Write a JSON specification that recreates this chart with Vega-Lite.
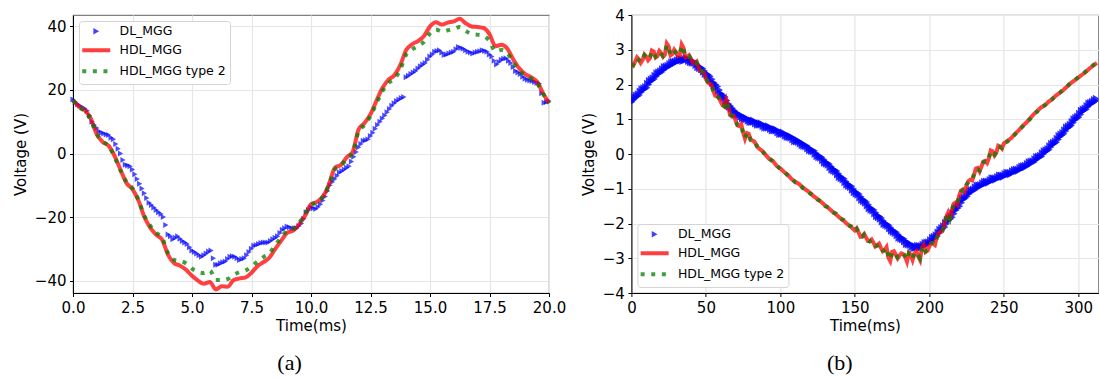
{
  "$schema": "https://vega.github.io/schema/vega-lite/v6.json",
  "padding": {"left": 12, "top": 7, "right": 0, "bottom": 0},
  "background": "white",
  "config": {
    "view": {"stroke": "#808080", "strokeWidth": 1.2},
    "axis": {
      "labelFont": "DejaVu Sans", "labelFontSize": 15, "labelColor": "black",
      "titleFont": "DejaVu Sans", "titleFontSize": 15, "titleFontWeight": "normal", "titleColor": "black",
      "tickColor": "black", "tickSize": 3.5, "tickWidth": 1,
      "domainColor": "black", "domainWidth": 1,
      "gridColor": "#e6e6e6", "gridWidth": 1.2,
      "labelPadding": 3.5, "labelFlush": false, "labelOverlap": false
    },
    "axisX": {"titlePadding": 3},
    "axisY": {"titlePadding": 6},
    "legend": {
      "title": null, "labelFont": "DejaVu Sans", "labelFontSize": 12.5, "labelColor": "black",
      "fillColor": "white", "strokeColor": "#d4d4d4", "cornerRadius": 3,
      "padding": 4, "rowPadding": 4, "symbolSize": 196, "symbolOffset": 7, "labelOffset": 17, "offset": 6
    }
  },
  "datasets": {
    "a": [
      {"t":0,"v":16.8,"s":"HDL_MGG"},{"t":0.25,"v":14.8,"s":"HDL_MGG"},{"t":0.5,"v":13.6,"s":"HDL_MGG"},{"t":0.75,"v":11.0,"s":"HDL_MGG"},{"t":1.0,"v":6.0,"s":"HDL_MGG"},{"t":1.25,"v":3.6,"s":"HDL_MGG"},{"t":1.5,"v":2.4,"s":"HDL_MGG"},{"t":1.75,"v":-0.8,"s":"HDL_MGG"},{"t":2.0,"v":-5.2,"s":"HDL_MGG"},{"t":2.25,"v":-9.3,"s":"HDL_MGG"},{"t":2.5,"v":-11.2,"s":"HDL_MGG"},{"t":2.75,"v":-14.8,"s":"HDL_MGG"},{"t":3.0,"v":-20.0,"s":"HDL_MGG"},{"t":3.25,"v":-23.4,"s":"HDL_MGG"},{"t":3.5,"v":-25.6,"s":"HDL_MGG"},{"t":3.75,"v":-27.2,"s":"HDL_MGG"},{"t":4.0,"v":-32.0,"s":"HDL_MGG"},{"t":4.25,"v":-34.5,"s":"HDL_MGG"},{"t":4.5,"v":-35.3,"s":"HDL_MGG"},{"t":4.75,"v":-36.6,"s":"HDL_MGG"},{"t":5.0,"v":-38.5,"s":"HDL_MGG"},{"t":5.25,"v":-40.0,"s":"HDL_MGG"},{"t":5.5,"v":-41.0,"s":"HDL_MGG"},{"t":5.75,"v":-40.4,"s":"HDL_MGG"},{"t":6.0,"v":-42.8,"s":"HDL_MGG"},{"t":6.25,"v":-41.8,"s":"HDL_MGG"},{"t":6.5,"v":-41.9,"s":"HDL_MGG"},{"t":6.75,"v":-39.8,"s":"HDL_MGG"},{"t":7.0,"v":-39.3,"s":"HDL_MGG"},{"t":7.25,"v":-39.0,"s":"HDL_MGG"},{"t":7.5,"v":-37.5,"s":"HDL_MGG"},{"t":7.75,"v":-35.5,"s":"HDL_MGG"},{"t":8.0,"v":-34.2,"s":"HDL_MGG"},{"t":8.25,"v":-32.8,"s":"HDL_MGG"},{"t":8.5,"v":-30.0,"s":"HDL_MGG"},{"t":8.75,"v":-27.4,"s":"HDL_MGG"},{"t":9.0,"v":-25.0,"s":"HDL_MGG"},{"t":9.25,"v":-24.3,"s":"HDL_MGG"},{"t":9.5,"v":-22.3,"s":"HDL_MGG"},{"t":9.75,"v":-19.6,"s":"HDL_MGG"},{"t":10.0,"v":-16.0,"s":"HDL_MGG"},{"t":10.25,"v":-15.2,"s":"HDL_MGG"},{"t":10.5,"v":-13.5,"s":"HDL_MGG"},{"t":10.75,"v":-9.8,"s":"HDL_MGG"},{"t":11.0,"v":-4.5,"s":"HDL_MGG"},{"t":11.25,"v":-3.6,"s":"HDL_MGG"},{"t":11.5,"v":-1.2,"s":"HDL_MGG"},{"t":11.75,"v":0.5,"s":"HDL_MGG"},{"t":12.0,"v":7.6,"s":"HDL_MGG"},{"t":12.25,"v":9.6,"s":"HDL_MGG"},{"t":12.5,"v":12.4,"s":"HDL_MGG"},{"t":12.75,"v":16.6,"s":"HDL_MGG"},{"t":13.0,"v":20.6,"s":"HDL_MGG"},{"t":13.25,"v":23.2,"s":"HDL_MGG"},{"t":13.5,"v":24.6,"s":"HDL_MGG"},{"t":13.75,"v":27.8,"s":"HDL_MGG"},{"t":14.0,"v":32.6,"s":"HDL_MGG"},{"t":14.25,"v":34.4,"s":"HDL_MGG"},{"t":14.5,"v":35.4,"s":"HDL_MGG"},{"t":14.75,"v":37.0,"s":"HDL_MGG"},{"t":15.0,"v":40.0,"s":"HDL_MGG"},{"t":15.25,"v":41.3,"s":"HDL_MGG"},{"t":15.5,"v":40.6,"s":"HDL_MGG"},{"t":15.75,"v":41.2,"s":"HDL_MGG"},{"t":16.0,"v":41.6,"s":"HDL_MGG"},{"t":16.25,"v":42.4,"s":"HDL_MGG"},{"t":16.5,"v":41.0,"s":"HDL_MGG"},{"t":16.75,"v":40.0,"s":"HDL_MGG"},{"t":17.0,"v":39.8,"s":"HDL_MGG"},{"t":17.25,"v":39.5,"s":"HDL_MGG"},{"t":17.5,"v":37.6,"s":"HDL_MGG"},{"t":17.75,"v":33.8,"s":"HDL_MGG"},{"t":18.0,"v":34.2,"s":"HDL_MGG"},{"t":18.25,"v":33.0,"s":"HDL_MGG"},{"t":18.5,"v":29.6,"s":"HDL_MGG"},{"t":18.75,"v":26.8,"s":"HDL_MGG"},{"t":19.0,"v":25.0,"s":"HDL_MGG"},{"t":19.25,"v":24.0,"s":"HDL_MGG"},{"t":19.5,"v":22.6,"s":"HDL_MGG"},{"t":19.75,"v":19.0,"s":"HDL_MGG"},{"t":20.0,"v":15.8,"s":"HDL_MGG"},
      {"t":0,"v":16.8,"s":"HDL_MGG type 2"},{"t":0.25,"v":14.6,"s":"HDL_MGG type 2"},{"t":0.5,"v":13.3,"s":"HDL_MGG type 2"},{"t":0.75,"v":10.6,"s":"HDL_MGG type 2"},{"t":1.0,"v":6.2,"s":"HDL_MGG type 2"},{"t":1.25,"v":3.8,"s":"HDL_MGG type 2"},{"t":1.5,"v":2.4,"s":"HDL_MGG type 2"},{"t":1.75,"v":-1.2,"s":"HDL_MGG type 2"},{"t":2.0,"v":-5.4,"s":"HDL_MGG type 2"},{"t":2.25,"v":-9.0,"s":"HDL_MGG type 2"},{"t":2.5,"v":-11.0,"s":"HDL_MGG type 2"},{"t":2.75,"v":-14.6,"s":"HDL_MGG type 2"},{"t":3.0,"v":-19.6,"s":"HDL_MGG type 2"},{"t":3.25,"v":-22.8,"s":"HDL_MGG type 2"},{"t":3.5,"v":-25.0,"s":"HDL_MGG type 2"},{"t":3.75,"v":-26.6,"s":"HDL_MGG type 2"},{"t":4.0,"v":-31.5,"s":"HDL_MGG type 2"},{"t":4.25,"v":-33.5,"s":"HDL_MGG type 2"},{"t":4.5,"v":-33.8,"s":"HDL_MGG type 2"},{"t":4.75,"v":-34.6,"s":"HDL_MGG type 2"},{"t":5.0,"v":-36.2,"s":"HDL_MGG type 2"},{"t":5.25,"v":-37.3,"s":"HDL_MGG type 2"},{"t":5.5,"v":-37.6,"s":"HDL_MGG type 2"},{"t":5.75,"v":-36.8,"s":"HDL_MGG type 2"},{"t":6.0,"v":-39.8,"s":"HDL_MGG type 2"},{"t":6.25,"v":-39.8,"s":"HDL_MGG type 2"},{"t":6.5,"v":-39.5,"s":"HDL_MGG type 2"},{"t":6.75,"v":-38.2,"s":"HDL_MGG type 2"},{"t":7.0,"v":-37.3,"s":"HDL_MGG type 2"},{"t":7.25,"v":-36.8,"s":"HDL_MGG type 2"},{"t":7.5,"v":-35.6,"s":"HDL_MGG type 2"},{"t":7.75,"v":-34.0,"s":"HDL_MGG type 2"},{"t":8.0,"v":-32.6,"s":"HDL_MGG type 2"},{"t":8.25,"v":-31.4,"s":"HDL_MGG type 2"},{"t":8.5,"v":-28.8,"s":"HDL_MGG type 2"},{"t":8.75,"v":-26.4,"s":"HDL_MGG type 2"},{"t":9.0,"v":-24.2,"s":"HDL_MGG type 2"},{"t":9.25,"v":-23.6,"s":"HDL_MGG type 2"},{"t":9.5,"v":-21.8,"s":"HDL_MGG type 2"},{"t":9.75,"v":-19.2,"s":"HDL_MGG type 2"},{"t":10.0,"v":-16.2,"s":"HDL_MGG type 2"},{"t":10.25,"v":-15.4,"s":"HDL_MGG type 2"},{"t":10.5,"v":-13.6,"s":"HDL_MGG type 2"},{"t":10.75,"v":-10.0,"s":"HDL_MGG type 2"},{"t":11.0,"v":-5.0,"s":"HDL_MGG type 2"},{"t":11.25,"v":-4.0,"s":"HDL_MGG type 2"},{"t":11.5,"v":-1.6,"s":"HDL_MGG type 2"},{"t":11.75,"v":0.2,"s":"HDL_MGG type 2"},{"t":12.0,"v":7.0,"s":"HDL_MGG type 2"},{"t":12.25,"v":9.0,"s":"HDL_MGG type 2"},{"t":12.5,"v":11.8,"s":"HDL_MGG type 2"},{"t":12.75,"v":15.8,"s":"HDL_MGG type 2"},{"t":13.0,"v":19.6,"s":"HDL_MGG type 2"},{"t":13.25,"v":22.2,"s":"HDL_MGG type 2"},{"t":13.5,"v":23.4,"s":"HDL_MGG type 2"},{"t":13.75,"v":26.4,"s":"HDL_MGG type 2"},{"t":14.0,"v":31.2,"s":"HDL_MGG type 2"},{"t":14.25,"v":32.8,"s":"HDL_MGG type 2"},{"t":14.5,"v":33.8,"s":"HDL_MGG type 2"},{"t":14.75,"v":35.2,"s":"HDL_MGG type 2"},{"t":15.0,"v":37.8,"s":"HDL_MGG type 2"},{"t":15.25,"v":39.0,"s":"HDL_MGG type 2"},{"t":15.5,"v":38.4,"s":"HDL_MGG type 2"},{"t":15.75,"v":38.8,"s":"HDL_MGG type 2"},{"t":16.0,"v":39.2,"s":"HDL_MGG type 2"},{"t":16.25,"v":39.8,"s":"HDL_MGG type 2"},{"t":16.5,"v":38.6,"s":"HDL_MGG type 2"},{"t":16.75,"v":37.6,"s":"HDL_MGG type 2"},{"t":17.0,"v":37.4,"s":"HDL_MGG type 2"},{"t":17.25,"v":37.0,"s":"HDL_MGG type 2"},{"t":17.5,"v":35.4,"s":"HDL_MGG type 2"},{"t":17.75,"v":32.2,"s":"HDL_MGG type 2"},{"t":18.0,"v":32.6,"s":"HDL_MGG type 2"},{"t":18.25,"v":31.6,"s":"HDL_MGG type 2"},{"t":18.5,"v":28.6,"s":"HDL_MGG type 2"},{"t":18.75,"v":26.0,"s":"HDL_MGG type 2"},{"t":19.0,"v":24.6,"s":"HDL_MGG type 2"},{"t":19.25,"v":23.6,"s":"HDL_MGG type 2"},{"t":19.5,"v":22.2,"s":"HDL_MGG type 2"},{"t":19.75,"v":18.8,"s":"HDL_MGG type 2"},{"t":20.0,"v":15.8,"s":"HDL_MGG type 2"},
      {"t":0,"v":17,"s":"DL_MGG"},{"t":0.1,"v":16.2,"s":"DL_MGG"},{"t":0.2,"v":15.5,"s":"DL_MGG"},{"t":0.3,"v":15.0,"s":"DL_MGG"},{"t":0.4,"v":14.5,"s":"DL_MGG"},{"t":0.5,"v":14.2,"s":"DL_MGG"},{"t":0.6,"v":13.5,"s":"DL_MGG"},{"t":0.7,"v":12.0,"s":"DL_MGG"},{"t":0.8,"v":10,"s":"DL_MGG"},{"t":0.9,"v":9.0,"s":"DL_MGG"},{"t":1.0,"v":8,"s":"DL_MGG"},{"t":1.1,"v":7.0,"s":"DL_MGG"},{"t":1.2,"v":6.5,"s":"DL_MGG"},{"t":1.3,"v":6.3,"s":"DL_MGG"},{"t":1.4,"v":6,"s":"DL_MGG"},{"t":1.5,"v":5.8,"s":"DL_MGG"},{"t":1.6,"v":5,"s":"DL_MGG"},{"t":1.7,"v":4.5,"s":"DL_MGG"},{"t":1.8,"v":3,"s":"DL_MGG"},{"t":1.9,"v":1.5,"s":"DL_MGG"},{"t":2.0,"v":0,"s":"DL_MGG"},{"t":2.1,"v":-2.0,"s":"DL_MGG"},{"t":2.2,"v":-3.5,"s":"DL_MGG"},{"t":2.3,"v":-3.8,"s":"DL_MGG"},{"t":2.4,"v":-4,"s":"DL_MGG"},{"t":2.5,"v":-5.0,"s":"DL_MGG"},{"t":2.6,"v":-6.5,"s":"DL_MGG"},{"t":2.7,"v":-8.0,"s":"DL_MGG"},{"t":2.8,"v":-9.5,"s":"DL_MGG"},{"t":2.9,"v":-11.0,"s":"DL_MGG"},{"t":3.0,"v":-12.5,"s":"DL_MGG"},{"t":3.1,"v":-14.0,"s":"DL_MGG"},{"t":3.2,"v":-15.5,"s":"DL_MGG"},{"t":3.3,"v":-16.2,"s":"DL_MGG"},{"t":3.4,"v":-17,"s":"DL_MGG"},{"t":3.5,"v":-17.8,"s":"DL_MGG"},{"t":3.6,"v":-18.5,"s":"DL_MGG"},{"t":3.7,"v":-19.0,"s":"DL_MGG"},{"t":3.8,"v":-20,"s":"DL_MGG"},{"t":3.9,"v":-22.5,"s":"DL_MGG"},{"t":4.0,"v":-25.5,"s":"DL_MGG"},{"t":4.1,"v":-26.0,"s":"DL_MGG"},{"t":4.2,"v":-27,"s":"DL_MGG"},{"t":4.3,"v":-26.5,"s":"DL_MGG"},{"t":4.4,"v":-26,"s":"DL_MGG"},{"t":4.5,"v":-26.8,"s":"DL_MGG"},{"t":4.6,"v":-27.5,"s":"DL_MGG"},{"t":4.7,"v":-28.0,"s":"DL_MGG"},{"t":4.8,"v":-28.5,"s":"DL_MGG"},{"t":4.9,"v":-29.5,"s":"DL_MGG"},{"t":5.0,"v":-30.5,"s":"DL_MGG"},{"t":5.1,"v":-31.0,"s":"DL_MGG"},{"t":5.2,"v":-31.5,"s":"DL_MGG"},{"t":5.3,"v":-32.0,"s":"DL_MGG"},{"t":5.4,"v":-32.5,"s":"DL_MGG"},{"t":5.5,"v":-32.0,"s":"DL_MGG"},{"t":5.6,"v":-31.5,"s":"DL_MGG"},{"t":5.7,"v":-30.8,"s":"DL_MGG"},{"t":5.8,"v":-30.5,"s":"DL_MGG"},{"t":5.9,"v":-33.0,"s":"DL_MGG"},{"t":6.0,"v":-35,"s":"DL_MGG"},{"t":6.1,"v":-35.0,"s":"DL_MGG"},{"t":6.2,"v":-34.5,"s":"DL_MGG"},{"t":6.3,"v":-34.2,"s":"DL_MGG"},{"t":6.4,"v":-34,"s":"DL_MGG"},{"t":6.5,"v":-33.2,"s":"DL_MGG"},{"t":6.6,"v":-32.5,"s":"DL_MGG"},{"t":6.7,"v":-32.3,"s":"DL_MGG"},{"t":6.8,"v":-32.5,"s":"DL_MGG"},{"t":6.9,"v":-33.0,"s":"DL_MGG"},{"t":7.0,"v":-33.5,"s":"DL_MGG"},{"t":7.1,"v":-33.2,"s":"DL_MGG"},{"t":7.2,"v":-33,"s":"DL_MGG"},{"t":7.3,"v":-32.0,"s":"DL_MGG"},{"t":7.4,"v":-31,"s":"DL_MGG"},{"t":7.5,"v":-30.0,"s":"DL_MGG"},{"t":7.6,"v":-29,"s":"DL_MGG"},{"t":7.7,"v":-28.8,"s":"DL_MGG"},{"t":7.8,"v":-28.5,"s":"DL_MGG"},{"t":7.9,"v":-28.2,"s":"DL_MGG"},{"t":8.0,"v":-28,"s":"DL_MGG"},{"t":8.1,"v":-28.0,"s":"DL_MGG"},{"t":8.2,"v":-28,"s":"DL_MGG"},{"t":8.3,"v":-27.5,"s":"DL_MGG"},{"t":8.4,"v":-27,"s":"DL_MGG"},{"t":8.5,"v":-26.5,"s":"DL_MGG"},{"t":8.6,"v":-26,"s":"DL_MGG"},{"t":8.7,"v":-25.0,"s":"DL_MGG"},{"t":8.8,"v":-24,"s":"DL_MGG"},{"t":8.9,"v":-23.5,"s":"DL_MGG"},{"t":9.0,"v":-23,"s":"DL_MGG"},{"t":9.1,"v":-23.2,"s":"DL_MGG"},{"t":9.2,"v":-23.5,"s":"DL_MGG"},{"t":9.3,"v":-23.5,"s":"DL_MGG"},{"t":9.4,"v":-23.5,"s":"DL_MGG"},{"t":9.5,"v":-22.8,"s":"DL_MGG"},{"t":9.6,"v":-22,"s":"DL_MGG"},{"t":9.7,"v":-20.5,"s":"DL_MGG"},{"t":9.8,"v":-18.5,"s":"DL_MGG"},{"t":9.9,"v":-17.8,"s":"DL_MGG"},{"t":10.0,"v":-17,"s":"DL_MGG"},{"t":10.1,"v":-17.2,"s":"DL_MGG"},{"t":10.2,"v":-17.5,"s":"DL_MGG"},{"t":10.3,"v":-16.8,"s":"DL_MGG"},{"t":10.4,"v":-16,"s":"DL_MGG"},{"t":10.5,"v":-14.8,"s":"DL_MGG"},{"t":10.6,"v":-13.5,"s":"DL_MGG"},{"t":10.7,"v":-11.8,"s":"DL_MGG"},{"t":10.8,"v":-10,"s":"DL_MGG"},{"t":10.9,"v":-9.0,"s":"DL_MGG"},{"t":11.0,"v":-8,"s":"DL_MGG"},{"t":11.1,"v":-7.0,"s":"DL_MGG"},{"t":11.2,"v":-6,"s":"DL_MGG"},{"t":11.3,"v":-5.5,"s":"DL_MGG"},{"t":11.4,"v":-5,"s":"DL_MGG"},{"t":11.5,"v":-4.5,"s":"DL_MGG"},{"t":11.6,"v":-4,"s":"DL_MGG"},{"t":11.7,"v":-2.5,"s":"DL_MGG"},{"t":11.8,"v":-1,"s":"DL_MGG"},{"t":11.9,"v":0.5,"s":"DL_MGG"},{"t":12.0,"v":2,"s":"DL_MGG"},{"t":12.1,"v":3.0,"s":"DL_MGG"},{"t":12.2,"v":4,"s":"DL_MGG"},{"t":12.3,"v":4.2,"s":"DL_MGG"},{"t":12.4,"v":4.5,"s":"DL_MGG"},{"t":12.5,"v":5.5,"s":"DL_MGG"},{"t":12.6,"v":6.5,"s":"DL_MGG"},{"t":12.7,"v":7.8,"s":"DL_MGG"},{"t":12.8,"v":9,"s":"DL_MGG"},{"t":12.9,"v":10.0,"s":"DL_MGG"},{"t":13.0,"v":11,"s":"DL_MGG"},{"t":13.1,"v":12.0,"s":"DL_MGG"},{"t":13.2,"v":13,"s":"DL_MGG"},{"t":13.3,"v":14.0,"s":"DL_MGG"},{"t":13.4,"v":15,"s":"DL_MGG"},{"t":13.5,"v":15.8,"s":"DL_MGG"},{"t":13.6,"v":16.5,"s":"DL_MGG"},{"t":13.7,"v":17.0,"s":"DL_MGG"},{"t":13.8,"v":17.5,"s":"DL_MGG"},{"t":13.9,"v":17.8,"s":"DL_MGG"},{"t":14.0,"v":24,"s":"DL_MGG"},{"t":14.1,"v":24.5,"s":"DL_MGG"},{"t":14.2,"v":25,"s":"DL_MGG"},{"t":14.3,"v":25.5,"s":"DL_MGG"},{"t":14.4,"v":26,"s":"DL_MGG"},{"t":14.5,"v":26.8,"s":"DL_MGG"},{"t":14.6,"v":27.5,"s":"DL_MGG"},{"t":14.7,"v":28.0,"s":"DL_MGG"},{"t":14.8,"v":28.5,"s":"DL_MGG"},{"t":14.9,"v":29.5,"s":"DL_MGG"},{"t":15.0,"v":30.5,"s":"DL_MGG"},{"t":15.1,"v":31.2,"s":"DL_MGG"},{"t":15.2,"v":32,"s":"DL_MGG"},{"t":15.3,"v":32.3,"s":"DL_MGG"},{"t":15.4,"v":32.5,"s":"DL_MGG"},{"t":15.5,"v":31.8,"s":"DL_MGG"},{"t":15.6,"v":31,"s":"DL_MGG"},{"t":15.7,"v":31.2,"s":"DL_MGG"},{"t":15.8,"v":31.5,"s":"DL_MGG"},{"t":15.9,"v":31.8,"s":"DL_MGG"},{"t":16.0,"v":32,"s":"DL_MGG"},{"t":16.1,"v":32.8,"s":"DL_MGG"},{"t":16.2,"v":33.5,"s":"DL_MGG"},{"t":16.3,"v":33.2,"s":"DL_MGG"},{"t":16.4,"v":33,"s":"DL_MGG"},{"t":16.5,"v":32.5,"s":"DL_MGG"},{"t":16.6,"v":32,"s":"DL_MGG"},{"t":16.7,"v":31.8,"s":"DL_MGG"},{"t":16.8,"v":31.5,"s":"DL_MGG"},{"t":16.9,"v":31.8,"s":"DL_MGG"},{"t":17.0,"v":32,"s":"DL_MGG"},{"t":17.1,"v":32.2,"s":"DL_MGG"},{"t":17.2,"v":32.5,"s":"DL_MGG"},{"t":17.3,"v":32.3,"s":"DL_MGG"},{"t":17.4,"v":32,"s":"DL_MGG"},{"t":17.5,"v":31.2,"s":"DL_MGG"},{"t":17.6,"v":30.5,"s":"DL_MGG"},{"t":17.7,"v":29.2,"s":"DL_MGG"},{"t":17.8,"v":28,"s":"DL_MGG"},{"t":17.9,"v":28.8,"s":"DL_MGG"},{"t":18.0,"v":29.5,"s":"DL_MGG"},{"t":18.1,"v":29.8,"s":"DL_MGG"},{"t":18.2,"v":30,"s":"DL_MGG"},{"t":18.3,"v":29.2,"s":"DL_MGG"},{"t":18.4,"v":28.5,"s":"DL_MGG"},{"t":18.5,"v":27.2,"s":"DL_MGG"},{"t":18.6,"v":26,"s":"DL_MGG"},{"t":18.7,"v":25.5,"s":"DL_MGG"},{"t":18.8,"v":25,"s":"DL_MGG"},{"t":18.9,"v":24.2,"s":"DL_MGG"},{"t":19.0,"v":23.5,"s":"DL_MGG"},{"t":19.1,"v":23.2,"s":"DL_MGG"},{"t":19.2,"v":23,"s":"DL_MGG"},{"t":19.3,"v":22.8,"s":"DL_MGG"},{"t":19.4,"v":22.5,"s":"DL_MGG"},{"t":19.5,"v":22.2,"s":"DL_MGG"},{"t":19.6,"v":22,"s":"DL_MGG"},{"t":19.7,"v":19.0,"s":"DL_MGG"},{"t":19.8,"v":16,"s":"DL_MGG"},{"t":19.9,"v":16.2,"s":"DL_MGG"},{"t":20.0,"v":16.5,"s":"DL_MGG"}
    ],
    "b": [
      {"t":0,"v":1.50,"s":"DL_MGG"},{"t":1.25,"v":1.56,"s":"DL_MGG"},{"t":2.5,"v":1.62,"s":"DL_MGG"},{"t":3.75,"v":1.66,"s":"DL_MGG"},{"t":5,"v":1.70,"s":"DL_MGG"},{"t":6.25,"v":1.78,"s":"DL_MGG"},{"t":7.5,"v":1.84,"s":"DL_MGG"},{"t":8.75,"v":1.87,"s":"DL_MGG"},{"t":10,"v":1.91,"s":"DL_MGG"},{"t":11.25,"v":2.00,"s":"DL_MGG"},{"t":12.5,"v":2.08,"s":"DL_MGG"},{"t":13.75,"v":2.12,"s":"DL_MGG"},{"t":15,"v":2.16,"s":"DL_MGG"},{"t":16.25,"v":2.23,"s":"DL_MGG"},{"t":17.5,"v":2.30,"s":"DL_MGG"},{"t":18.75,"v":2.33,"s":"DL_MGG"},{"t":20,"v":2.36,"s":"DL_MGG"},{"t":21.25,"v":2.42,"s":"DL_MGG"},{"t":22.5,"v":2.48,"s":"DL_MGG"},{"t":23.75,"v":2.50,"s":"DL_MGG"},{"t":25,"v":2.52,"s":"DL_MGG"},{"t":26.25,"v":2.57,"s":"DL_MGG"},{"t":27.5,"v":2.62,"s":"DL_MGG"},{"t":28.75,"v":2.63,"s":"DL_MGG"},{"t":30,"v":2.64,"s":"DL_MGG"},{"t":31.25,"v":2.68,"s":"DL_MGG"},{"t":32.5,"v":2.72,"s":"DL_MGG"},{"t":33.75,"v":2.71,"s":"DL_MGG"},{"t":35,"v":2.70,"s":"DL_MGG"},{"t":36.25,"v":2.72,"s":"DL_MGG"},{"t":37.5,"v":2.74,"s":"DL_MGG"},{"t":38.75,"v":2.70,"s":"DL_MGG"},{"t":40,"v":2.66,"s":"DL_MGG"},{"t":41.25,"v":2.65,"s":"DL_MGG"},{"t":42.5,"v":2.64,"s":"DL_MGG"},{"t":43.75,"v":2.58,"s":"DL_MGG"},{"t":45,"v":2.52,"s":"DL_MGG"},{"t":46.25,"v":2.49,"s":"DL_MGG"},{"t":47.5,"v":2.46,"s":"DL_MGG"},{"t":48.75,"v":2.39,"s":"DL_MGG"},{"t":50,"v":2.32,"s":"DL_MGG"},{"t":51.25,"v":2.28,"s":"DL_MGG"},{"t":52.5,"v":2.24,"s":"DL_MGG"},{"t":53.75,"v":2.15,"s":"DL_MGG"},{"t":55,"v":2.06,"s":"DL_MGG"},{"t":56.25,"v":2.00,"s":"DL_MGG"},{"t":57.5,"v":1.94,"s":"DL_MGG"},{"t":58.75,"v":1.84,"s":"DL_MGG"},{"t":60,"v":1.74,"s":"DL_MGG"},{"t":61.25,"v":1.69,"s":"DL_MGG"},{"t":62.5,"v":1.64,"s":"DL_MGG"},{"t":63.75,"v":1.54,"s":"DL_MGG"},{"t":65,"v":1.44,"s":"DL_MGG"},{"t":66.25,"v":1.38,"s":"DL_MGG"},{"t":67.5,"v":1.32,"s":"DL_MGG"},{"t":68.75,"v":1.25,"s":"DL_MGG"},{"t":70,"v":1.18,"s":"DL_MGG"},{"t":71.25,"v":1.16,"s":"DL_MGG"},{"t":72.5,"v":1.14,"s":"DL_MGG"},{"t":73.75,"v":1.09,"s":"DL_MGG"},{"t":75,"v":1.04,"s":"DL_MGG"},{"t":76.25,"v":1.03,"s":"DL_MGG"},{"t":77.5,"v":1.02,"s":"DL_MGG"},{"t":78.75,"v":0.98,"s":"DL_MGG"},{"t":80,"v":0.94,"s":"DL_MGG"},{"t":81.25,"v":0.94,"s":"DL_MGG"},{"t":82.5,"v":0.94,"s":"DL_MGG"},{"t":83.75,"v":0.90,"s":"DL_MGG"},{"t":85,"v":0.86,"s":"DL_MGG"},{"t":86.25,"v":0.86,"s":"DL_MGG"},{"t":87.5,"v":0.86,"s":"DL_MGG"},{"t":88.75,"v":0.82,"s":"DL_MGG"},{"t":90,"v":0.78,"s":"DL_MGG"},{"t":91.25,"v":0.78,"s":"DL_MGG"},{"t":92.5,"v":0.78,"s":"DL_MGG"},{"t":93.75,"v":0.74,"s":"DL_MGG"},{"t":95,"v":0.70,"s":"DL_MGG"},{"t":96.25,"v":0.70,"s":"DL_MGG"},{"t":97.5,"v":0.69,"s":"DL_MGG"},{"t":98.75,"v":0.64,"s":"DL_MGG"},{"t":100,"v":0.60,"s":"DL_MGG"},{"t":101.25,"v":0.60,"s":"DL_MGG"},{"t":102.5,"v":0.60,"s":"DL_MGG"},{"t":103.75,"v":0.55,"s":"DL_MGG"},{"t":105,"v":0.51,"s":"DL_MGG"},{"t":106.25,"v":0.50,"s":"DL_MGG"},{"t":107.5,"v":0.49,"s":"DL_MGG"},{"t":108.75,"v":0.44,"s":"DL_MGG"},{"t":110,"v":0.39,"s":"DL_MGG"},{"t":111.25,"v":0.38,"s":"DL_MGG"},{"t":112.5,"v":0.37,"s":"DL_MGG"},{"t":113.75,"v":0.32,"s":"DL_MGG"},{"t":115,"v":0.27,"s":"DL_MGG"},{"t":116.25,"v":0.25,"s":"DL_MGG"},{"t":117.5,"v":0.24,"s":"DL_MGG"},{"t":118.75,"v":0.18,"s":"DL_MGG"},{"t":120,"v":0.13,"s":"DL_MGG"},{"t":121.25,"v":0.11,"s":"DL_MGG"},{"t":122.5,"v":0.09,"s":"DL_MGG"},{"t":123.75,"v":0.02,"s":"DL_MGG"},{"t":125,"v":-0.04,"s":"DL_MGG"},{"t":126.25,"v":-0.07,"s":"DL_MGG"},{"t":127.5,"v":-0.09,"s":"DL_MGG"},{"t":128.75,"v":-0.16,"s":"DL_MGG"},{"t":130,"v":-0.23,"s":"DL_MGG"},{"t":131.25,"v":-0.26,"s":"DL_MGG"},{"t":132.5,"v":-0.29,"s":"DL_MGG"},{"t":133.75,"v":-0.36,"s":"DL_MGG"},{"t":135,"v":-0.43,"s":"DL_MGG"},{"t":136.25,"v":-0.46,"s":"DL_MGG"},{"t":137.5,"v":-0.49,"s":"DL_MGG"},{"t":138.75,"v":-0.57,"s":"DL_MGG"},{"t":140,"v":-0.64,"s":"DL_MGG"},{"t":141.25,"v":-0.68,"s":"DL_MGG"},{"t":142.5,"v":-0.71,"s":"DL_MGG"},{"t":143.75,"v":-0.79,"s":"DL_MGG"},{"t":145,"v":-0.86,"s":"DL_MGG"},{"t":146.25,"v":-0.90,"s":"DL_MGG"},{"t":147.5,"v":-0.93,"s":"DL_MGG"},{"t":148.75,"v":-1.01,"s":"DL_MGG"},{"t":150,"v":-1.08,"s":"DL_MGG"},{"t":151.25,"v":-1.12,"s":"DL_MGG"},{"t":152.5,"v":-1.15,"s":"DL_MGG"},{"t":153.75,"v":-1.23,"s":"DL_MGG"},{"t":155,"v":-1.30,"s":"DL_MGG"},{"t":156.25,"v":-1.34,"s":"DL_MGG"},{"t":157.5,"v":-1.38,"s":"DL_MGG"},{"t":158.75,"v":-1.46,"s":"DL_MGG"},{"t":160,"v":-1.54,"s":"DL_MGG"},{"t":161.25,"v":-1.58,"s":"DL_MGG"},{"t":162.5,"v":-1.61,"s":"DL_MGG"},{"t":163.75,"v":-1.69,"s":"DL_MGG"},{"t":165,"v":-1.77,"s":"DL_MGG"},{"t":166.25,"v":-1.80,"s":"DL_MGG"},{"t":167.5,"v":-1.84,"s":"DL_MGG"},{"t":168.75,"v":-1.92,"s":"DL_MGG"},{"t":170,"v":-1.99,"s":"DL_MGG"},{"t":171.25,"v":-2.02,"s":"DL_MGG"},{"t":172.5,"v":-2.05,"s":"DL_MGG"},{"t":173.75,"v":-2.12,"s":"DL_MGG"},{"t":175,"v":-2.19,"s":"DL_MGG"},{"t":176.25,"v":-2.22,"s":"DL_MGG"},{"t":177.5,"v":-2.25,"s":"DL_MGG"},{"t":178.75,"v":-2.32,"s":"DL_MGG"},{"t":180,"v":-2.39,"s":"DL_MGG"},{"t":181.25,"v":-2.42,"s":"DL_MGG"},{"t":182.5,"v":-2.44,"s":"DL_MGG"},{"t":183.75,"v":-2.50,"s":"DL_MGG"},{"t":185,"v":-2.57,"s":"DL_MGG"},{"t":186.25,"v":-2.58,"s":"DL_MGG"},{"t":187.5,"v":-2.60,"s":"DL_MGG"},{"t":188.75,"v":-2.65,"s":"DL_MGG"},{"t":190,"v":-2.69,"s":"DL_MGG"},{"t":191.25,"v":-2.68,"s":"DL_MGG"},{"t":192.5,"v":-2.66,"s":"DL_MGG"},{"t":193.75,"v":-2.67,"s":"DL_MGG"},{"t":195,"v":-2.67,"s":"DL_MGG"},{"t":196.25,"v":-2.63,"s":"DL_MGG"},{"t":197.5,"v":-2.58,"s":"DL_MGG"},{"t":198.75,"v":-2.57,"s":"DL_MGG"},{"t":200,"v":-2.56,"s":"DL_MGG"},{"t":201.25,"v":-2.50,"s":"DL_MGG"},{"t":202.5,"v":-2.43,"s":"DL_MGG"},{"t":203.75,"v":-2.40,"s":"DL_MGG"},{"t":205,"v":-2.36,"s":"DL_MGG"},{"t":206.25,"v":-2.28,"s":"DL_MGG"},{"t":207.5,"v":-2.20,"s":"DL_MGG"},{"t":208.75,"v":-2.15,"s":"DL_MGG"},{"t":210,"v":-2.10,"s":"DL_MGG"},{"t":211.25,"v":-2.01,"s":"DL_MGG"},{"t":212.5,"v":-1.92,"s":"DL_MGG"},{"t":213.75,"v":-1.87,"s":"DL_MGG"},{"t":215,"v":-1.82,"s":"DL_MGG"},{"t":216.25,"v":-1.72,"s":"DL_MGG"},{"t":217.5,"v":-1.62,"s":"DL_MGG"},{"t":218.75,"v":-1.56,"s":"DL_MGG"},{"t":220,"v":-1.50,"s":"DL_MGG"},{"t":221.25,"v":-1.40,"s":"DL_MGG"},{"t":222.5,"v":-1.31,"s":"DL_MGG"},{"t":223.75,"v":-1.27,"s":"DL_MGG"},{"t":225,"v":-1.22,"s":"DL_MGG"},{"t":226.25,"v":-1.15,"s":"DL_MGG"},{"t":227.5,"v":-1.08,"s":"DL_MGG"},{"t":228.75,"v":-1.06,"s":"DL_MGG"},{"t":230,"v":-1.04,"s":"DL_MGG"},{"t":231.25,"v":-0.98,"s":"DL_MGG"},{"t":232.5,"v":-0.93,"s":"DL_MGG"},{"t":233.75,"v":-0.92,"s":"DL_MGG"},{"t":235,"v":-0.91,"s":"DL_MGG"},{"t":236.25,"v":-0.86,"s":"DL_MGG"},{"t":237.5,"v":-0.82,"s":"DL_MGG"},{"t":238.75,"v":-0.81,"s":"DL_MGG"},{"t":240,"v":-0.81,"s":"DL_MGG"},{"t":241.25,"v":-0.77,"s":"DL_MGG"},{"t":242.5,"v":-0.72,"s":"DL_MGG"},{"t":243.75,"v":-0.72,"s":"DL_MGG"},{"t":245,"v":-0.72,"s":"DL_MGG"},{"t":246.25,"v":-0.68,"s":"DL_MGG"},{"t":247.5,"v":-0.64,"s":"DL_MGG"},{"t":248.75,"v":-0.64,"s":"DL_MGG"},{"t":250,"v":-0.64,"s":"DL_MGG"},{"t":251.25,"v":-0.60,"s":"DL_MGG"},{"t":252.5,"v":-0.56,"s":"DL_MGG"},{"t":253.75,"v":-0.56,"s":"DL_MGG"},{"t":255,"v":-0.56,"s":"DL_MGG"},{"t":256.25,"v":-0.52,"s":"DL_MGG"},{"t":257.5,"v":-0.48,"s":"DL_MGG"},{"t":258.75,"v":-0.47,"s":"DL_MGG"},{"t":260,"v":-0.47,"s":"DL_MGG"},{"t":261.25,"v":-0.42,"s":"DL_MGG"},{"t":262.5,"v":-0.38,"s":"DL_MGG"},{"t":263.75,"v":-0.37,"s":"DL_MGG"},{"t":265,"v":-0.36,"s":"DL_MGG"},{"t":266.25,"v":-0.31,"s":"DL_MGG"},{"t":267.5,"v":-0.26,"s":"DL_MGG"},{"t":268.75,"v":-0.24,"s":"DL_MGG"},{"t":270,"v":-0.23,"s":"DL_MGG"},{"t":271.25,"v":-0.17,"s":"DL_MGG"},{"t":272.5,"v":-0.11,"s":"DL_MGG"},{"t":273.75,"v":-0.09,"s":"DL_MGG"},{"t":275,"v":-0.07,"s":"DL_MGG"},{"t":276.25,"v":0.00,"s":"DL_MGG"},{"t":277.5,"v":0.06,"s":"DL_MGG"},{"t":278.75,"v":0.09,"s":"DL_MGG"},{"t":280,"v":0.12,"s":"DL_MGG"},{"t":281.25,"v":0.20,"s":"DL_MGG"},{"t":282.5,"v":0.27,"s":"DL_MGG"},{"t":283.75,"v":0.30,"s":"DL_MGG"},{"t":285,"v":0.34,"s":"DL_MGG"},{"t":286.25,"v":0.42,"s":"DL_MGG"},{"t":287.5,"v":0.50,"s":"DL_MGG"},{"t":288.75,"v":0.54,"s":"DL_MGG"},{"t":290,"v":0.58,"s":"DL_MGG"},{"t":291.25,"v":0.66,"s":"DL_MGG"},{"t":292.5,"v":0.74,"s":"DL_MGG"},{"t":293.75,"v":0.78,"s":"DL_MGG"},{"t":295,"v":0.82,"s":"DL_MGG"},{"t":296.25,"v":0.90,"s":"DL_MGG"},{"t":297.5,"v":0.98,"s":"DL_MGG"},{"t":298.75,"v":1.02,"s":"DL_MGG"},{"t":300,"v":1.06,"s":"DL_MGG"},{"t":301.25,"v":1.14,"s":"DL_MGG"},{"t":302.5,"v":1.22,"s":"DL_MGG"},{"t":303.75,"v":1.26,"s":"DL_MGG"},{"t":305,"v":1.29,"s":"DL_MGG"},{"t":306.25,"v":1.36,"s":"DL_MGG"},{"t":307.5,"v":1.43,"s":"DL_MGG"},{"t":308.75,"v":1.45,"s":"DL_MGG"},{"t":310,"v":1.48,"s":"DL_MGG"},{"t":311.25,"v":1.53,"s":"DL_MGG"},{"t":312.5,"v":1.57,"s":"DL_MGG"},
      {"t":0,"v":2.60,"s":"HDL_MGG"},{"t":2.5,"v":2.66,"s":"HDL_MGG"},{"t":5,"v":2.72,"s":"HDL_MGG"},{"t":7.5,"v":2.70,"s":"HDL_MGG"},{"t":10,"v":2.80,"s":"HDL_MGG"},{"t":12.5,"v":2.76,"s":"HDL_MGG"},{"t":15,"v":2.95,"s":"HDL_MGG"},{"t":17.5,"v":2.82,"s":"HDL_MGG"},{"t":20,"v":2.90,"s":"HDL_MGG"},{"t":22.5,"v":2.86,"s":"HDL_MGG"},{"t":25,"v":3.10,"s":"HDL_MGG"},{"t":27.5,"v":2.88,"s":"HDL_MGG"},{"t":30,"v":2.92,"s":"HDL_MGG"},{"t":32.5,"v":2.84,"s":"HDL_MGG"},{"t":35,"v":3.05,"s":"HDL_MGG"},{"t":37.5,"v":2.80,"s":"HDL_MGG"},{"t":40,"v":2.74,"s":"HDL_MGG"},{"t":42.5,"v":2.62,"s":"HDL_MGG"},{"t":45,"v":2.50,"s":"HDL_MGG"},{"t":47.5,"v":2.36,"s":"HDL_MGG"},{"t":50,"v":2.18,"s":"HDL_MGG"},{"t":52.5,"v":2.02,"s":"HDL_MGG"},{"t":55,"v":1.82,"s":"HDL_MGG"},{"t":57.5,"v":1.66,"s":"HDL_MGG"},{"t":60,"v":1.50,"s":"HDL_MGG"},{"t":62.5,"v":1.36,"s":"HDL_MGG"},{"t":65,"v":1.40,"s":"HDL_MGG"},{"t":67.5,"v":1.08,"s":"HDL_MGG"},{"t":70,"v":0.96,"s":"HDL_MGG"},{"t":72.5,"v":0.80,"s":"HDL_MGG"},{"t":75,"v":0.62,"s":"HDL_MGG"},{"t":77.5,"v":0.60,"s":"HDL_MGG"},{"t":80,"v":0.42,"s":"HDL_MGG"},{"t":82.5,"v":0.36,"s":"HDL_MGG"},{"t":85,"v":0.18,"s":"HDL_MGG"},{"t":87.5,"v":0.10,"s":"HDL_MGG"},{"t":90,"v":-0.02,"s":"HDL_MGG"},{"t":92.5,"v":-0.14,"s":"HDL_MGG"},{"t":95,"v":-0.20,"s":"HDL_MGG"},{"t":97.5,"v":-0.34,"s":"HDL_MGG"},{"t":100,"v":-0.42,"s":"HDL_MGG"},{"t":102.5,"v":-0.52,"s":"HDL_MGG"},{"t":105,"v":-0.60,"s":"HDL_MGG"},{"t":107.5,"v":-0.72,"s":"HDL_MGG"},{"t":110,"v":-0.80,"s":"HDL_MGG"},{"t":112.5,"v":-0.86,"s":"HDL_MGG"},{"t":115,"v":-0.96,"s":"HDL_MGG"},{"t":117.5,"v":-1.04,"s":"HDL_MGG"},{"t":120,"v":-1.12,"s":"HDL_MGG"},{"t":122.5,"v":-1.22,"s":"HDL_MGG"},{"t":125,"v":-1.30,"s":"HDL_MGG"},{"t":127.5,"v":-1.38,"s":"HDL_MGG"},{"t":130,"v":-1.48,"s":"HDL_MGG"},{"t":132.5,"v":-1.56,"s":"HDL_MGG"},{"t":135,"v":-1.66,"s":"HDL_MGG"},{"t":137.5,"v":-1.74,"s":"HDL_MGG"},{"t":140,"v":-1.84,"s":"HDL_MGG"},{"t":142.5,"v":-1.92,"s":"HDL_MGG"},{"t":145,"v":-2.02,"s":"HDL_MGG"},{"t":147.5,"v":-2.10,"s":"HDL_MGG"},{"t":150,"v":-2.20,"s":"HDL_MGG"},{"t":152.5,"v":-2.26,"s":"HDL_MGG"},{"t":155,"v":-2.36,"s":"HDL_MGG"},{"t":157.5,"v":-2.40,"s":"HDL_MGG"},{"t":160,"v":-2.50,"s":"HDL_MGG"},{"t":162.5,"v":-2.55,"s":"HDL_MGG"},{"t":165,"v":-2.62,"s":"HDL_MGG"},{"t":167.5,"v":-2.70,"s":"HDL_MGG"},{"t":170,"v":-2.76,"s":"HDL_MGG"},{"t":172.5,"v":-2.98,"s":"HDL_MGG"},{"t":175,"v":-2.82,"s":"HDL_MGG"},{"t":177.5,"v":-2.90,"s":"HDL_MGG"},{"t":180,"v":-2.92,"s":"HDL_MGG"},{"t":182.5,"v":-2.88,"s":"HDL_MGG"},{"t":185,"v":-3.10,"s":"HDL_MGG"},{"t":187.5,"v":-2.90,"s":"HDL_MGG"},{"t":190,"v":-2.86,"s":"HDL_MGG"},{"t":192.5,"v":-2.94,"s":"HDL_MGG"},{"t":195,"v":-2.70,"s":"HDL_MGG"},{"t":197.5,"v":-2.82,"s":"HDL_MGG"},{"t":200,"v":-2.66,"s":"HDL_MGG"},{"t":202.5,"v":-2.58,"s":"HDL_MGG"},{"t":205,"v":-2.40,"s":"HDL_MGG"},{"t":207.5,"v":-2.24,"s":"HDL_MGG"},{"t":210,"v":-2.02,"s":"HDL_MGG"},{"t":212.5,"v":-1.70,"s":"HDL_MGG"},{"t":215,"v":-1.66,"s":"HDL_MGG"},{"t":217.5,"v":-1.40,"s":"HDL_MGG"},{"t":220,"v":-1.20,"s":"HDL_MGG"},{"t":222.5,"v":-1.02,"s":"HDL_MGG"},{"t":225,"v":-0.90,"s":"HDL_MGG"},{"t":227.5,"v":-0.74,"s":"HDL_MGG"},{"t":230,"v":-0.60,"s":"HDL_MGG"},{"t":232.5,"v":-0.40,"s":"HDL_MGG"},{"t":235,"v":-0.36,"s":"HDL_MGG"},{"t":237.5,"v":-0.20,"s":"HDL_MGG"},{"t":240,"v":-0.12,"s":"HDL_MGG"},{"t":242.5,"v":0.08,"s":"HDL_MGG"},{"t":245,"v":0.04,"s":"HDL_MGG"},{"t":247.5,"v":0.22,"s":"HDL_MGG"},{"t":250,"v":0.30,"s":"HDL_MGG"},{"t":252.5,"v":0.38,"s":"HDL_MGG"},{"t":255,"v":0.46,"s":"HDL_MGG"},{"t":257.5,"v":0.58,"s":"HDL_MGG"},{"t":260,"v":0.68,"s":"HDL_MGG"},{"t":262.5,"v":0.80,"s":"HDL_MGG"},{"t":265,"v":0.90,"s":"HDL_MGG"},{"t":267.5,"v":1.02,"s":"HDL_MGG"},{"t":270,"v":1.14,"s":"HDL_MGG"},{"t":272.5,"v":1.24,"s":"HDL_MGG"},{"t":275,"v":1.34,"s":"HDL_MGG"},{"t":277.5,"v":1.40,"s":"HDL_MGG"},{"t":280,"v":1.50,"s":"HDL_MGG"},{"t":282.5,"v":1.58,"s":"HDL_MGG"},{"t":285,"v":1.68,"s":"HDL_MGG"},{"t":287.5,"v":1.76,"s":"HDL_MGG"},{"t":290,"v":1.84,"s":"HDL_MGG"},{"t":292.5,"v":1.94,"s":"HDL_MGG"},{"t":295,"v":2.04,"s":"HDL_MGG"},{"t":297.5,"v":2.12,"s":"HDL_MGG"},{"t":300,"v":2.20,"s":"HDL_MGG"},{"t":302.5,"v":2.28,"s":"HDL_MGG"},{"t":305,"v":2.36,"s":"HDL_MGG"},{"t":307.5,"v":2.46,"s":"HDL_MGG"},{"t":310,"v":2.54,"s":"HDL_MGG"},{"t":312.5,"v":2.62,"s":"HDL_MGG"},
      {"t":1.25,"v":2.55,"s":"HDL_MGG"},{"t":3.75,"v":2.78,"s":"HDL_MGG"},{"t":6.25,"v":2.62,"s":"HDL_MGG"},{"t":8.75,"v":2.86,"s":"HDL_MGG"},{"t":11.25,"v":2.70,"s":"HDL_MGG"},{"t":13.75,"v":2.98,"s":"HDL_MGG"},{"t":16.25,"v":2.78,"s":"HDL_MGG"},{"t":18.75,"v":2.96,"s":"HDL_MGG"},{"t":21.25,"v":2.80,"s":"HDL_MGG"},{"t":23.75,"v":3.18,"s":"HDL_MGG"},{"t":26.25,"v":2.84,"s":"HDL_MGG"},{"t":28.75,"v":3.00,"s":"HDL_MGG"},{"t":31.25,"v":2.82,"s":"HDL_MGG"},{"t":33.75,"v":3.15,"s":"HDL_MGG"},{"t":36.25,"v":2.78,"s":"HDL_MGG"},{"t":38.75,"v":2.84,"s":"HDL_MGG"},{"t":41.25,"v":2.62,"s":"HDL_MGG"},{"t":43.75,"v":2.66,"s":"HDL_MGG"},{"t":46.25,"v":2.38,"s":"HDL_MGG"},{"t":48.75,"v":2.34,"s":"HDL_MGG"},{"t":51.25,"v":2.06,"s":"HDL_MGG"},{"t":53.75,"v":2.00,"s":"HDL_MGG"},{"t":56.25,"v":1.68,"s":"HDL_MGG"},{"t":58.75,"v":1.62,"s":"HDL_MGG"},{"t":61.25,"v":1.40,"s":"HDL_MGG"},{"t":63.75,"v":1.56,"s":"HDL_MGG"},{"t":66.25,"v":1.12,"s":"HDL_MGG"},{"t":68.75,"v":1.10,"s":"HDL_MGG"},{"t":71.25,"v":0.82,"s":"HDL_MGG"},{"t":73.75,"v":0.86,"s":"HDL_MGG"},{"t":76.25,"v":0.44,"s":"HDL_MGG"},{"t":78.75,"v":0.58,"s":"HDL_MGG"},
      {"t":151.25,"v":-2.14,"s":"HDL_MGG"},{"t":153.75,"v":-2.38,"s":"HDL_MGG"},{"t":156.25,"v":-2.30,"s":"HDL_MGG"},{"t":158.75,"v":-2.50,"s":"HDL_MGG"},{"t":161.25,"v":-2.46,"s":"HDL_MGG"},{"t":163.75,"v":-2.66,"s":"HDL_MGG"},{"t":166.25,"v":-2.58,"s":"HDL_MGG"},{"t":168.75,"v":-2.80,"s":"HDL_MGG"},{"t":171.25,"v":-2.68,"s":"HDL_MGG"},{"t":173.75,"v":-3.08,"s":"HDL_MGG"},{"t":176.25,"v":-2.80,"s":"HDL_MGG"},{"t":178.75,"v":-3.00,"s":"HDL_MGG"},{"t":181.25,"v":-2.86,"s":"HDL_MGG"},{"t":183.75,"v":-2.96,"s":"HDL_MGG"},{"t":186.25,"v":-2.84,"s":"HDL_MGG"},{"t":188.75,"v":-3.05,"s":"HDL_MGG"},{"t":191.25,"v":-2.80,"s":"HDL_MGG"},{"t":193.75,"v":-3.05,"s":"HDL_MGG"},{"t":196.25,"v":-2.62,"s":"HDL_MGG"},{"t":198.75,"v":-2.78,"s":"HDL_MGG"},{"t":201.25,"v":-2.56,"s":"HDL_MGG"},{"t":203.75,"v":-2.62,"s":"HDL_MGG"},{"t":206.25,"v":-2.28,"s":"HDL_MGG"},{"t":208.75,"v":-2.22,"s":"HDL_MGG"},{"t":211.25,"v":-1.82,"s":"HDL_MGG"},{"t":213.75,"v":-1.90,"s":"HDL_MGG"},{"t":216.25,"v":-1.44,"s":"HDL_MGG"},{"t":218.75,"v":-1.46,"s":"HDL_MGG"},{"t":221.25,"v":-1.06,"s":"HDL_MGG"},{"t":223.75,"v":-1.08,"s":"HDL_MGG"},{"t":226.25,"v":-0.78,"s":"HDL_MGG"},{"t":228.75,"v":-0.76,"s":"HDL_MGG"},{"t":231.25,"v":-0.42,"s":"HDL_MGG"},{"t":233.75,"v":-0.50,"s":"HDL_MGG"},{"t":236.25,"v":-0.22,"s":"HDL_MGG"},{"t":238.75,"v":-0.26,"s":"HDL_MGG"},{"t":241.25,"v":0.10,"s":"HDL_MGG"},{"t":243.75,"v":-0.04,"s":"HDL_MGG"},{"t":246.25,"v":0.24,"s":"HDL_MGG"},{"t":248.75,"v":0.16,"s":"HDL_MGG"},
      {"t":0,"v":2.58,"s":"HDL_MGG type 2"},{"t":2.5,"v":2.68,"s":"HDL_MGG type 2"},{"t":5,"v":2.70,"s":"HDL_MGG type 2"},{"t":7.5,"v":2.74,"s":"HDL_MGG type 2"},{"t":10,"v":2.78,"s":"HDL_MGG type 2"},{"t":12.5,"v":2.80,"s":"HDL_MGG type 2"},{"t":15,"v":2.90,"s":"HDL_MGG type 2"},{"t":17.5,"v":2.84,"s":"HDL_MGG type 2"},{"t":20,"v":2.88,"s":"HDL_MGG type 2"},{"t":22.5,"v":2.90,"s":"HDL_MGG type 2"},{"t":25,"v":3.02,"s":"HDL_MGG type 2"},{"t":27.5,"v":2.90,"s":"HDL_MGG type 2"},{"t":30,"v":2.90,"s":"HDL_MGG type 2"},{"t":32.5,"v":2.88,"s":"HDL_MGG type 2"},{"t":35,"v":3.00,"s":"HDL_MGG type 2"},{"t":37.5,"v":2.82,"s":"HDL_MGG type 2"},{"t":40,"v":2.72,"s":"HDL_MGG type 2"},{"t":42.5,"v":2.64,"s":"HDL_MGG type 2"},{"t":45,"v":2.46,"s":"HDL_MGG type 2"},{"t":47.5,"v":2.38,"s":"HDL_MGG type 2"},{"t":50,"v":2.16,"s":"HDL_MGG type 2"},{"t":52.5,"v":2.04,"s":"HDL_MGG type 2"},{"t":55,"v":1.80,"s":"HDL_MGG type 2"},{"t":57.5,"v":1.68,"s":"HDL_MGG type 2"},{"t":60,"v":1.46,"s":"HDL_MGG type 2"},{"t":62.5,"v":1.38,"s":"HDL_MGG type 2"},{"t":65,"v":1.34,"s":"HDL_MGG type 2"},{"t":67.5,"v":1.10,"s":"HDL_MGG type 2"},{"t":70,"v":0.92,"s":"HDL_MGG type 2"},{"t":72.5,"v":0.82,"s":"HDL_MGG type 2"},{"t":75,"v":0.58,"s":"HDL_MGG type 2"},{"t":77.5,"v":0.62,"s":"HDL_MGG type 2"},{"t":80,"v":0.40,"s":"HDL_MGG type 2"},{"t":82.5,"v":0.38,"s":"HDL_MGG type 2"},{"t":85,"v":0.16,"s":"HDL_MGG type 2"},{"t":87.5,"v":0.12,"s":"HDL_MGG type 2"},{"t":90,"v":-0.04,"s":"HDL_MGG type 2"},{"t":92.5,"v":-0.12,"s":"HDL_MGG type 2"},{"t":95,"v":-0.22,"s":"HDL_MGG type 2"},{"t":97.5,"v":-0.32,"s":"HDL_MGG type 2"},{"t":100,"v":-0.44,"s":"HDL_MGG type 2"},{"t":102.5,"v":-0.50,"s":"HDL_MGG type 2"},{"t":105,"v":-0.62,"s":"HDL_MGG type 2"},{"t":107.5,"v":-0.70,"s":"HDL_MGG type 2"},{"t":110,"v":-0.82,"s":"HDL_MGG type 2"},{"t":112.5,"v":-0.84,"s":"HDL_MGG type 2"},{"t":115,"v":-0.98,"s":"HDL_MGG type 2"},{"t":117.5,"v":-1.02,"s":"HDL_MGG type 2"},{"t":120,"v":-1.14,"s":"HDL_MGG type 2"},{"t":122.5,"v":-1.20,"s":"HDL_MGG type 2"},{"t":125,"v":-1.32,"s":"HDL_MGG type 2"},{"t":127.5,"v":-1.36,"s":"HDL_MGG type 2"},{"t":130,"v":-1.50,"s":"HDL_MGG type 2"},{"t":132.5,"v":-1.54,"s":"HDL_MGG type 2"},{"t":135,"v":-1.68,"s":"HDL_MGG type 2"},{"t":137.5,"v":-1.72,"s":"HDL_MGG type 2"},{"t":140,"v":-1.86,"s":"HDL_MGG type 2"},{"t":142.5,"v":-1.90,"s":"HDL_MGG type 2"},{"t":145,"v":-2.04,"s":"HDL_MGG type 2"},{"t":147.5,"v":-2.08,"s":"HDL_MGG type 2"},{"t":150,"v":-2.22,"s":"HDL_MGG type 2"},{"t":152.5,"v":-2.24,"s":"HDL_MGG type 2"},{"t":155,"v":-2.38,"s":"HDL_MGG type 2"},{"t":157.5,"v":-2.38,"s":"HDL_MGG type 2"},{"t":160,"v":-2.52,"s":"HDL_MGG type 2"},{"t":162.5,"v":-2.53,"s":"HDL_MGG type 2"},{"t":165,"v":-2.64,"s":"HDL_MGG type 2"},{"t":167.5,"v":-2.68,"s":"HDL_MGG type 2"},{"t":170,"v":-2.78,"s":"HDL_MGG type 2"},{"t":172.5,"v":-2.92,"s":"HDL_MGG type 2"},{"t":175,"v":-2.84,"s":"HDL_MGG type 2"},{"t":177.5,"v":-2.88,"s":"HDL_MGG type 2"},{"t":180,"v":-2.94,"s":"HDL_MGG type 2"},{"t":182.5,"v":-2.86,"s":"HDL_MGG type 2"},{"t":185,"v":-3.04,"s":"HDL_MGG type 2"},{"t":187.5,"v":-2.92,"s":"HDL_MGG type 2"},{"t":190,"v":-2.84,"s":"HDL_MGG type 2"},{"t":192.5,"v":-2.90,"s":"HDL_MGG type 2"},{"t":195,"v":-2.72,"s":"HDL_MGG type 2"},{"t":197.5,"v":-2.80,"s":"HDL_MGG type 2"},{"t":200,"v":-2.68,"s":"HDL_MGG type 2"},{"t":202.5,"v":-2.56,"s":"HDL_MGG type 2"},{"t":205,"v":-2.42,"s":"HDL_MGG type 2"},{"t":207.5,"v":-2.22,"s":"HDL_MGG type 2"},{"t":210,"v":-2.04,"s":"HDL_MGG type 2"},{"t":212.5,"v":-1.74,"s":"HDL_MGG type 2"},{"t":215,"v":-1.62,"s":"HDL_MGG type 2"},{"t":217.5,"v":-1.42,"s":"HDL_MGG type 2"},{"t":220,"v":-1.18,"s":"HDL_MGG type 2"},{"t":222.5,"v":-1.04,"s":"HDL_MGG type 2"},{"t":225,"v":-0.88,"s":"HDL_MGG type 2"},{"t":227.5,"v":-0.76,"s":"HDL_MGG type 2"},{"t":230,"v":-0.58,"s":"HDL_MGG type 2"},{"t":232.5,"v":-0.44,"s":"HDL_MGG type 2"},{"t":235,"v":-0.34,"s":"HDL_MGG type 2"},{"t":237.5,"v":-0.22,"s":"HDL_MGG type 2"},{"t":240,"v":-0.10,"s":"HDL_MGG type 2"},{"t":242.5,"v":0.04,"s":"HDL_MGG type 2"},{"t":245,"v":0.06,"s":"HDL_MGG type 2"},{"t":247.5,"v":0.20,"s":"HDL_MGG type 2"},{"t":250,"v":0.32,"s":"HDL_MGG type 2"},{"t":252.5,"v":0.36,"s":"HDL_MGG type 2"},{"t":255,"v":0.48,"s":"HDL_MGG type 2"},{"t":257.5,"v":0.56,"s":"HDL_MGG type 2"},{"t":260,"v":0.70,"s":"HDL_MGG type 2"},{"t":262.5,"v":0.78,"s":"HDL_MGG type 2"},{"t":265,"v":0.92,"s":"HDL_MGG type 2"},{"t":267.5,"v":1.00,"s":"HDL_MGG type 2"},{"t":270,"v":1.16,"s":"HDL_MGG type 2"},{"t":272.5,"v":1.22,"s":"HDL_MGG type 2"},{"t":275,"v":1.36,"s":"HDL_MGG type 2"},{"t":277.5,"v":1.40,"s":"HDL_MGG type 2"},{"t":280,"v":1.52,"s":"HDL_MGG type 2"},{"t":282.5,"v":1.58,"s":"HDL_MGG type 2"},{"t":285,"v":1.70,"s":"HDL_MGG type 2"},{"t":287.5,"v":1.76,"s":"HDL_MGG type 2"},{"t":290,"v":1.86,"s":"HDL_MGG type 2"},{"t":292.5,"v":1.94,"s":"HDL_MGG type 2"},{"t":295,"v":2.06,"s":"HDL_MGG type 2"},{"t":297.5,"v":2.12,"s":"HDL_MGG type 2"},{"t":300,"v":2.22,"s":"HDL_MGG type 2"},{"t":302.5,"v":2.28,"s":"HDL_MGG type 2"},{"t":305,"v":2.38,"s":"HDL_MGG type 2"},{"t":307.5,"v":2.46,"s":"HDL_MGG type 2"},{"t":310,"v":2.56,"s":"HDL_MGG type 2"},{"t":312.5,"v":2.62,"s":"HDL_MGG type 2"},
      {"t":1.25,"v":2.56,"s":"HDL_MGG type 2"},{"t":3.75,"v":2.76,"s":"HDL_MGG type 2"},{"t":6.25,"v":2.64,"s":"HDL_MGG type 2"},{"t":8.75,"v":2.84,"s":"HDL_MGG type 2"},{"t":11.25,"v":2.72,"s":"HDL_MGG type 2"},{"t":13.75,"v":2.96,"s":"HDL_MGG type 2"},{"t":16.25,"v":2.80,"s":"HDL_MGG type 2"},{"t":18.75,"v":2.94,"s":"HDL_MGG type 2"},{"t":21.25,"v":2.82,"s":"HDL_MGG type 2"},{"t":23.75,"v":3.14,"s":"HDL_MGG type 2"},{"t":26.25,"v":2.86,"s":"HDL_MGG type 2"},{"t":28.75,"v":2.98,"s":"HDL_MGG type 2"},{"t":31.25,"v":2.84,"s":"HDL_MGG type 2"},{"t":33.75,"v":3.12,"s":"HDL_MGG type 2"},{"t":36.25,"v":2.80,"s":"HDL_MGG type 2"},{"t":38.75,"v":2.82,"s":"HDL_MGG type 2"},{"t":41.25,"v":2.64,"s":"HDL_MGG type 2"},{"t":43.75,"v":2.64,"s":"HDL_MGG type 2"},{"t":46.25,"v":2.40,"s":"HDL_MGG type 2"},{"t":48.75,"v":2.32,"s":"HDL_MGG type 2"},{"t":51.25,"v":2.08,"s":"HDL_MGG type 2"},{"t":53.75,"v":1.98,"s":"HDL_MGG type 2"},{"t":56.25,"v":1.70,"s":"HDL_MGG type 2"},{"t":58.75,"v":1.60,"s":"HDL_MGG type 2"},{"t":61.25,"v":1.42,"s":"HDL_MGG type 2"},{"t":63.75,"v":1.52,"s":"HDL_MGG type 2"},{"t":66.25,"v":1.14,"s":"HDL_MGG type 2"},{"t":68.75,"v":1.08,"s":"HDL_MGG type 2"},{"t":71.25,"v":0.84,"s":"HDL_MGG type 2"},{"t":73.75,"v":0.84,"s":"HDL_MGG type 2"},{"t":76.25,"v":0.46,"s":"HDL_MGG type 2"},{"t":78.75,"v":0.56,"s":"HDL_MGG type 2"},
      {"t":151.25,"v":-2.16,"s":"HDL_MGG type 2"},{"t":153.75,"v":-2.36,"s":"HDL_MGG type 2"},{"t":156.25,"v":-2.32,"s":"HDL_MGG type 2"},{"t":158.75,"v":-2.48,"s":"HDL_MGG type 2"},{"t":161.25,"v":-2.48,"s":"HDL_MGG type 2"},{"t":163.75,"v":-2.64,"s":"HDL_MGG type 2"},{"t":166.25,"v":-2.60,"s":"HDL_MGG type 2"},{"t":168.75,"v":-2.78,"s":"HDL_MGG type 2"},{"t":171.25,"v":-2.70,"s":"HDL_MGG type 2"},{"t":173.75,"v":-3.04,"s":"HDL_MGG type 2"},{"t":176.25,"v":-2.82,"s":"HDL_MGG type 2"},{"t":178.75,"v":-2.98,"s":"HDL_MGG type 2"},{"t":181.25,"v":-2.88,"s":"HDL_MGG type 2"},{"t":183.75,"v":-2.94,"s":"HDL_MGG type 2"},{"t":186.25,"v":-2.86,"s":"HDL_MGG type 2"},{"t":188.75,"v":-3.02,"s":"HDL_MGG type 2"},{"t":191.25,"v":-2.82,"s":"HDL_MGG type 2"},{"t":193.75,"v":-3.00,"s":"HDL_MGG type 2"},{"t":196.25,"v":-2.64,"s":"HDL_MGG type 2"},{"t":198.75,"v":-2.76,"s":"HDL_MGG type 2"},{"t":201.25,"v":-2.58,"s":"HDL_MGG type 2"},{"t":203.75,"v":-2.60,"s":"HDL_MGG type 2"},{"t":206.25,"v":-2.30,"s":"HDL_MGG type 2"},{"t":208.75,"v":-2.20,"s":"HDL_MGG type 2"},{"t":211.25,"v":-1.84,"s":"HDL_MGG type 2"},{"t":213.75,"v":-1.86,"s":"HDL_MGG type 2"},{"t":216.25,"v":-1.46,"s":"HDL_MGG type 2"},{"t":218.75,"v":-1.44,"s":"HDL_MGG type 2"},{"t":221.25,"v":-1.08,"s":"HDL_MGG type 2"},{"t":223.75,"v":-1.06,"s":"HDL_MGG type 2"},{"t":226.25,"v":-0.80,"s":"HDL_MGG type 2"},{"t":228.75,"v":-0.74,"s":"HDL_MGG type 2"},{"t":231.25,"v":-0.44,"s":"HDL_MGG type 2"},{"t":233.75,"v":-0.48,"s":"HDL_MGG type 2"},{"t":236.25,"v":-0.24,"s":"HDL_MGG type 2"},{"t":238.75,"v":-0.24,"s":"HDL_MGG type 2"},{"t":241.25,"v":0.08,"s":"HDL_MGG type 2"},{"t":243.75,"v":-0.02,"s":"HDL_MGG type 2"},{"t":246.25,"v":0.22,"s":"HDL_MGG type 2"},{"t":248.75,"v":0.18,"s":"HDL_MGG type 2"}
    ]
  },
  "hconcat": [
    {
      "width": 476, "height": 278,
      "title": {"text": "(a)", "orient": "bottom", "anchor": "middle", "frame": "bounds", "font": "Liberation Serif", "fontSize": 22, "fontWeight": "normal", "color": "black", "offset": 20},
      "data": {"name": "a"},
      "encoding": {
        "x": {"field": "t", "type": "quantitative", "scale": {"domain": [0, 20], "nice": false, "zero": false},
              "axis": {"title": "Time(ms)", "values": [0, 2.5, 5, 7.5, 10, 12.5, 15, 17.5, 20], "format": ".1f"}},
        "y": {"field": "v", "type": "quantitative", "scale": {"domain": [-43.9, 43.6], "nice": false, "zero": false},
              "axis": {"title": "Voltage (V)", "values": [-40, -20, 0, 20, 40]}},
        "color": {"field": "s", "type": "nominal",
                  "scale": {"domain": ["DL_MGG", "HDL_MGG", "HDL_MGG type 2"], "range": ["#0000ff", "#ff0000", "#008000"]},
                  "legend": {"orient": "top-left",
                    "encoding": {"symbols": {
                      "shape": {"value": {"expr": "datum.value === 'DL_MGG' ? 'triangle-right' : 'M-2,0H2'"}},
                      "size": {"value": {"expr": "datum.value === 'DL_MGG' ? 44 : 196"}},
                      "fill": {"value": {"expr": "datum.value === 'DL_MGG' ? '#0000ff' : 'transparent'"}},
                      "stroke": {"value": {"expr": "datum.value === 'DL_MGG' ? 'transparent' : (datum.value === 'HDL_MGG' ? '#ff0000' : '#008000')"}},
                      "strokeWidth": {"value": {"expr": "datum.value === 'DL_MGG' ? 0 : 4"}},
                      "strokeDash": {"value": {"expr": "datum.value === 'HDL_MGG type 2' ? [4, 6.6] : [100, 0]"}},
                      "opacity": {"value": 0.75}
                    }}}}
      },
      "layer": [
        {"transform": [{"filter": "datum.s === 'DL_MGG'"}],
         "mark": {"type": "point", "shape": "triangle-right", "filled": true, "size": 36, "opacity": 0.7, "strokeWidth": 0}},
        {"transform": [{"filter": "datum.s === 'HDL_MGG'"}],
         "mark": {"type": "line", "strokeWidth": 4, "opacity": 0.75, "interpolate": "monotone"}},
        {"transform": [{"filter": "datum.s === 'HDL_MGG type 2'"}],
         "mark": {"type": "line", "strokeWidth": 4, "strokeDash": [4, 6.6], "opacity": 0.75, "interpolate": "monotone"}}
      ]
    },
    {
      "width": 467, "height": 278,
      "title": {"text": "(b)", "orient": "bottom", "anchor": "middle", "frame": "bounds", "font": "Liberation Serif", "fontSize": 22, "fontWeight": "normal", "color": "black", "offset": 20},
      "data": {"name": "b"},
      "encoding": {
        "x": {"field": "t", "type": "quantitative", "scale": {"domain": [0, 313.5], "nice": false, "zero": false},
              "axis": {"title": "Time(ms)", "values": [0, 50, 100, 150, 200, 250, 300]}},
        "y": {"field": "v", "type": "quantitative", "scale": {"domain": [-4, 4], "nice": false, "zero": false},
              "axis": {"title": "Voltage (V)", "values": [-4, -3, -2, -1, 0, 1, 2, 3, 4]}},
        "color": {"field": "s", "type": "nominal",
                  "scale": {"domain": ["DL_MGG", "HDL_MGG", "HDL_MGG type 2"], "range": ["#0000ff", "#ff0000", "#008000"]},
                  "legend": {"orient": "bottom-left",
                    "encoding": {"symbols": {
                      "shape": {"value": {"expr": "datum.value === 'DL_MGG' ? 'triangle-right' : 'M-2,0H2'"}},
                      "size": {"value": {"expr": "datum.value === 'DL_MGG' ? 44 : 196"}},
                      "fill": {"value": {"expr": "datum.value === 'DL_MGG' ? '#0000ff' : 'transparent'"}},
                      "stroke": {"value": {"expr": "datum.value === 'DL_MGG' ? 'transparent' : (datum.value === 'HDL_MGG' ? '#ff0000' : '#008000')"}},
                      "strokeWidth": {"value": {"expr": "datum.value === 'DL_MGG' ? 0 : 4"}},
                      "strokeDash": {"value": {"expr": "datum.value === 'HDL_MGG type 2' ? [4, 6.6] : [100, 0]"}},
                      "opacity": {"value": 0.75}
                    }}}}
      },
      "layer": [
        {"transform": [{"filter": "datum.s === 'DL_MGG'"}],
         "mark": {"type": "point", "shape": "triangle-right", "filled": true, "size": 90, "opacity": 0.8, "strokeWidth": 0, "clip": true}},
        {"transform": [{"filter": "datum.s === 'HDL_MGG'"}],
         "mark": {"type": "line", "strokeWidth": 4, "opacity": 0.75, "clip": true}},
        {"transform": [{"filter": "datum.s === 'HDL_MGG type 2'"}],
         "mark": {"type": "line", "strokeWidth": 4, "strokeDash": [4, 6.6], "opacity": 0.75, "clip": true}}
      ]
    }
  ],
  "spacing": 82.4,
  "bounds": "flush",
  "resolve": {"scale": {"color": "independent"}, "legend": {"color": "independent"}}
}
